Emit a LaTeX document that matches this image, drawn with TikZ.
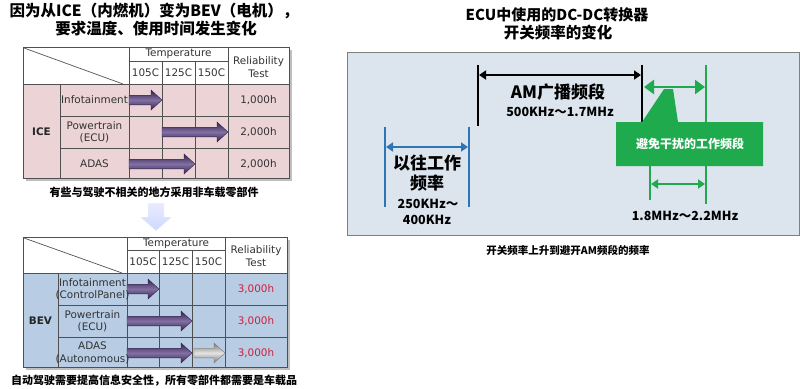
\documentclass[tikz,border=0pt]{standalone}
\usepackage{fontspec}
\setmainfont{DejaVu Sans}
\newfontfamily\cjk{Noto Sans CJK SC}
\usetikzlibrary{arrows.meta}
\definecolor{gridc}{HTML}{505050}
\definecolor{pinkc}{HTML}{EBD3D6}
\definecolor{bluec}{HTML}{B8CCE4}
\definecolor{panelc}{HTML}{DCE4EE}
\definecolor{greenc}{HTML}{1FAA4E}
\definecolor{bluel}{HTML}{2E75B6}
\definecolor{purd}{HTML}{33224E}
\definecolor{purl}{HTML}{8270A2}
\definecolor{redt}{HTML}{D0203A}
\newcommand\barrow[4]{%
  \path[#4] (#1,#3-4.8) -- (#2-11,#3-4.8) -- (#2-11,#3-10) -- (#2,#3) -- (#2-11,#3+10) -- (#2-11,#3+4.8) -- (#1,#3+4.8) -- cycle;}
\tikzset{
  grid/.style={draw=gridc, line width=0.7pt},
  tt/.style={font=\fontsize{10.4}{12.5}\selectfont, text=black!80, inner sep=0pt, align=center},
  ttb/.style={font=\fontsize{10.4}{12.5}\selectfont\bfseries, text=black!85, inner sep=0pt},
  cjkb/.style={font=\cjk\bfseries\fontsize{#1}{#1}\selectfont, inner sep=0pt, align=center},
  purarrow/.style={top color=purd, bottom color=purd, middle color=purl, draw=purd, line width=0.4pt},
  grayarrow/.style={top color=black!55, bottom color=black!55, middle color=black!10, draw=black!50, line width=0.4pt},
}
\begin{document}
\begin{tikzpicture}[x=1pt,y=-1pt]
\fill[white] (0,0) rectangle (800,388);
\useasboundingbox (0,0) rectangle (800,388);

% ---------- Left titles ----------
\node[cjkb=15.5] (t1) at (154,11) {因为从ICE（内燃机）变为BEV（电机），};
\node[cjkb=15.5] (t2) at (156,29) {要求温度、使用时间发生变化};

% ---------- ICE table ----------
\fill[black!25] (26,50) rectangle (292,181);
\fill[white] (23,47) rectangle (289,84);
\fill[pinkc] (23,84) rectangle (289,178);
\draw[grid] (23,47) rectangle (289,178);
\draw[grid] (23,84) -- (289,84);
\draw[grid] (60,116) -- (289,116) (60,148) -- (289,148);
\draw[grid] (129,61) -- (228,61);
\draw[grid] (60,84) -- (60,178);
\draw[grid] (129,47) -- (129,178) (228,47) -- (228,178);
\draw[grid] (162,61) -- (162,178) (195,61) -- (195,178);
\draw[grid] (24,48) -- (123,84);
\node[tt] (iT) at (178.5,54) {Temperature};
\node[tt] (i1) at (145.5,72.5) {105C};
\node[tt] (i2) at (178.5,72.5) {125C};
\node[tt] (i3) at (211.5,72.5) {150C};
\node[tt] (iR) at (258.5,67) {Reliability\\Test};
\node[ttb] (ice) at (41.5,132) {ICE};
\barrow{129}{162}{100}{purarrow}
\barrow{162}{228}{132}{purarrow}
\barrow{129}{195}{164}{purarrow}
\node[tt] (ia) at (94.5,100) {Infotainment};
\node[tt] (ib) at (94.5,132) {Powertrain\\(ECU)};
\node[tt] (ic) at (94.5,164) {ADAS};
\node[tt] (ra) at (258.5,100) {1,000h};
\node[tt] (rb) at (258.5,132) {2,000h};
\node[tt] (rc) at (258.5,164) {2,000h};
\node[cjkb=11] (c1) at (154,192) {有些与驾驶不相关的地方采用非车载零部件};

% ---------- down arrow ----------
\shade[top color=blue!8, bottom color=cyan!25!blue!20, draw=white] (148,203) -- (164,203) -- (164,217) -- (172,217) -- (156,231) -- (140,217) -- (148,217) -- cycle;

% ---------- BEV table ----------
\fill[black!25] (26,240) rectangle (290,370);
\fill[white] (23,237) rectangle (287,273);
\fill[bluec] (23,273) rectangle (287,367);
\draw[grid] (23,237) rectangle (287,367);
\draw[grid] (23,273) -- (287,273);
\draw[grid] (58,305) -- (287,305) (58,337) -- (287,337);
\draw[grid] (127,250) -- (225,250);
\draw[grid] (58,273) -- (58,367);
\draw[grid] (127,237) -- (127,367) (225,237) -- (225,367);
\draw[grid] (159,250) -- (159,367) (192,250) -- (192,367);
\draw[grid] (24,238) -- (122,273);
\node[tt] (bT) at (176,244) {Temperature};
\node[tt] (b1) at (143,262) {105C};
\node[tt] (b2) at (175.5,262) {125C};
\node[tt] (b3) at (208.5,262) {150C};
\node[tt] (bR) at (256,256) {Reliability\\Test};
\node[ttb] (bev) at (40.5,321) {BEV};
\barrow{127}{159}{289}{purarrow}
\barrow{127}{192}{321}{purarrow}
\barrow{127}{192}{353}{purarrow}
\barrow{194}{225}{353}{grayarrow}
\node[tt] (ba) at (92.5,289) {Infotainment\\(ControlPanel)};
\node[tt] (bb) at (92.5,321) {Powertrain\\(ECU)};
\node[tt] (bc) at (92.5,353) {ADAS\\(Autonomous)};
\node[tt, text=redt] (sa) at (256,289) {3,000h};
\node[tt, text=redt] (sb) at (256,321) {3,000h};
\node[tt, text=redt] (sc) at (256,353) {3,000h};
\node[cjkb=11] (c2) at (154,381) {自动驾驶需要提高信息安全性，所有零部件都需要是车载品};

% ---------- Right side ----------
\node[cjkb=15] (r1) at (557,15) {ECU中使用的DC-DC转换器};
\node[cjkb=15.5] (r2) at (558,33) {开关频率的变化};
\draw[fill=panelc, draw=black!50, line width=0.8pt] (347,52) rectangle (799,235);

% AM band
\coordinate (amLt) at (478,65); \coordinate (amLb) at (478,126);
\coordinate (amRt) at (642,65); \coordinate (amRb) at (642,122);
\draw[line width=2pt] (amLt) -- (amLb);
\draw[line width=2pt] (amRt) -- (amRb);
\coordinate (amA) at (479,75); \coordinate (amB) at (641,75);
\draw[line width=1.8pt, {Triangle[length=7pt,width=9pt]}-{Triangle[length=7pt,width=9pt]}] (amA) -- (amB);
\node[cjkb=17] (am) at (558,92) {AM广播频段};
\node[cjkb=12.5] (amf) at (560,112) {500KHz～1.7MHz};

% Old frequency (blue)
\coordinate (oLt) at (385,127); \coordinate (oLb) at (385,207);
\coordinate (oRt) at (469,127); \coordinate (oRb) at (469,207);
\draw[bluel, line width=2pt] (oLt) -- (oLb);
\draw[bluel, line width=2pt] (oRt) -- (oRb);
\coordinate (oA) at (386,147); \coordinate (oB) at (468,147);
\draw[bluel, line width=2pt, {Triangle[length=7pt,width=9pt]}-{Triangle[length=7pt,width=9pt]}] (oA) -- (oB);
\node[cjkb=17] (old1) at (427,163) {以往工作};
\node[cjkb=17] (old2) at (427,183) {频率};
\node[cjkb=12.5] (old3) at (428,204) {250KHz～};
\node[cjkb=12.5] (old4) at (427,220) {400KHz};

% Green
\coordinate (gRt) at (706,65); \coordinate (gRb) at (706,204);
\coordinate (gLt) at (650,165); \coordinate (gLb) at (650,200);
\draw[greenc, line width=2pt] (gRt) -- (gRb);
\draw[greenc, line width=2pt] (gLt) -- (gLb);
\coordinate (gA) at (644,87); \coordinate (gB) at (705,87);
\draw[greenc, line width=2.6pt, {Triangle[length=10pt,width=14pt]}-{Triangle[length=10pt,width=14pt]}] (gA) -- (gB);
\fill[greenc] (616,122) -- (642,122) -- (664,89) -- (673,89) -- (678,122) -- (763,122) -- (763,166) -- (616,166) -- cycle;
\node[cjkb=12, text=white] (gtxt) at (690,144) {避免干扰的工作频段};
\coordinate (gC) at (651,184); \coordinate (gD) at (705,184);
\draw[greenc, line width=2pt, {Triangle[length=7pt,width=9pt]}-{Triangle[length=7pt,width=9pt]}] (gC) -- (gD);
\node[cjkb=12.5] (gf) at (685,216) {1.8MHz～2.2MHz};

\node[cjkb=10.5] (c3) at (568,250) {开关频率上升到避开AM频段的频率};
\end{tikzpicture}
\end{document}
